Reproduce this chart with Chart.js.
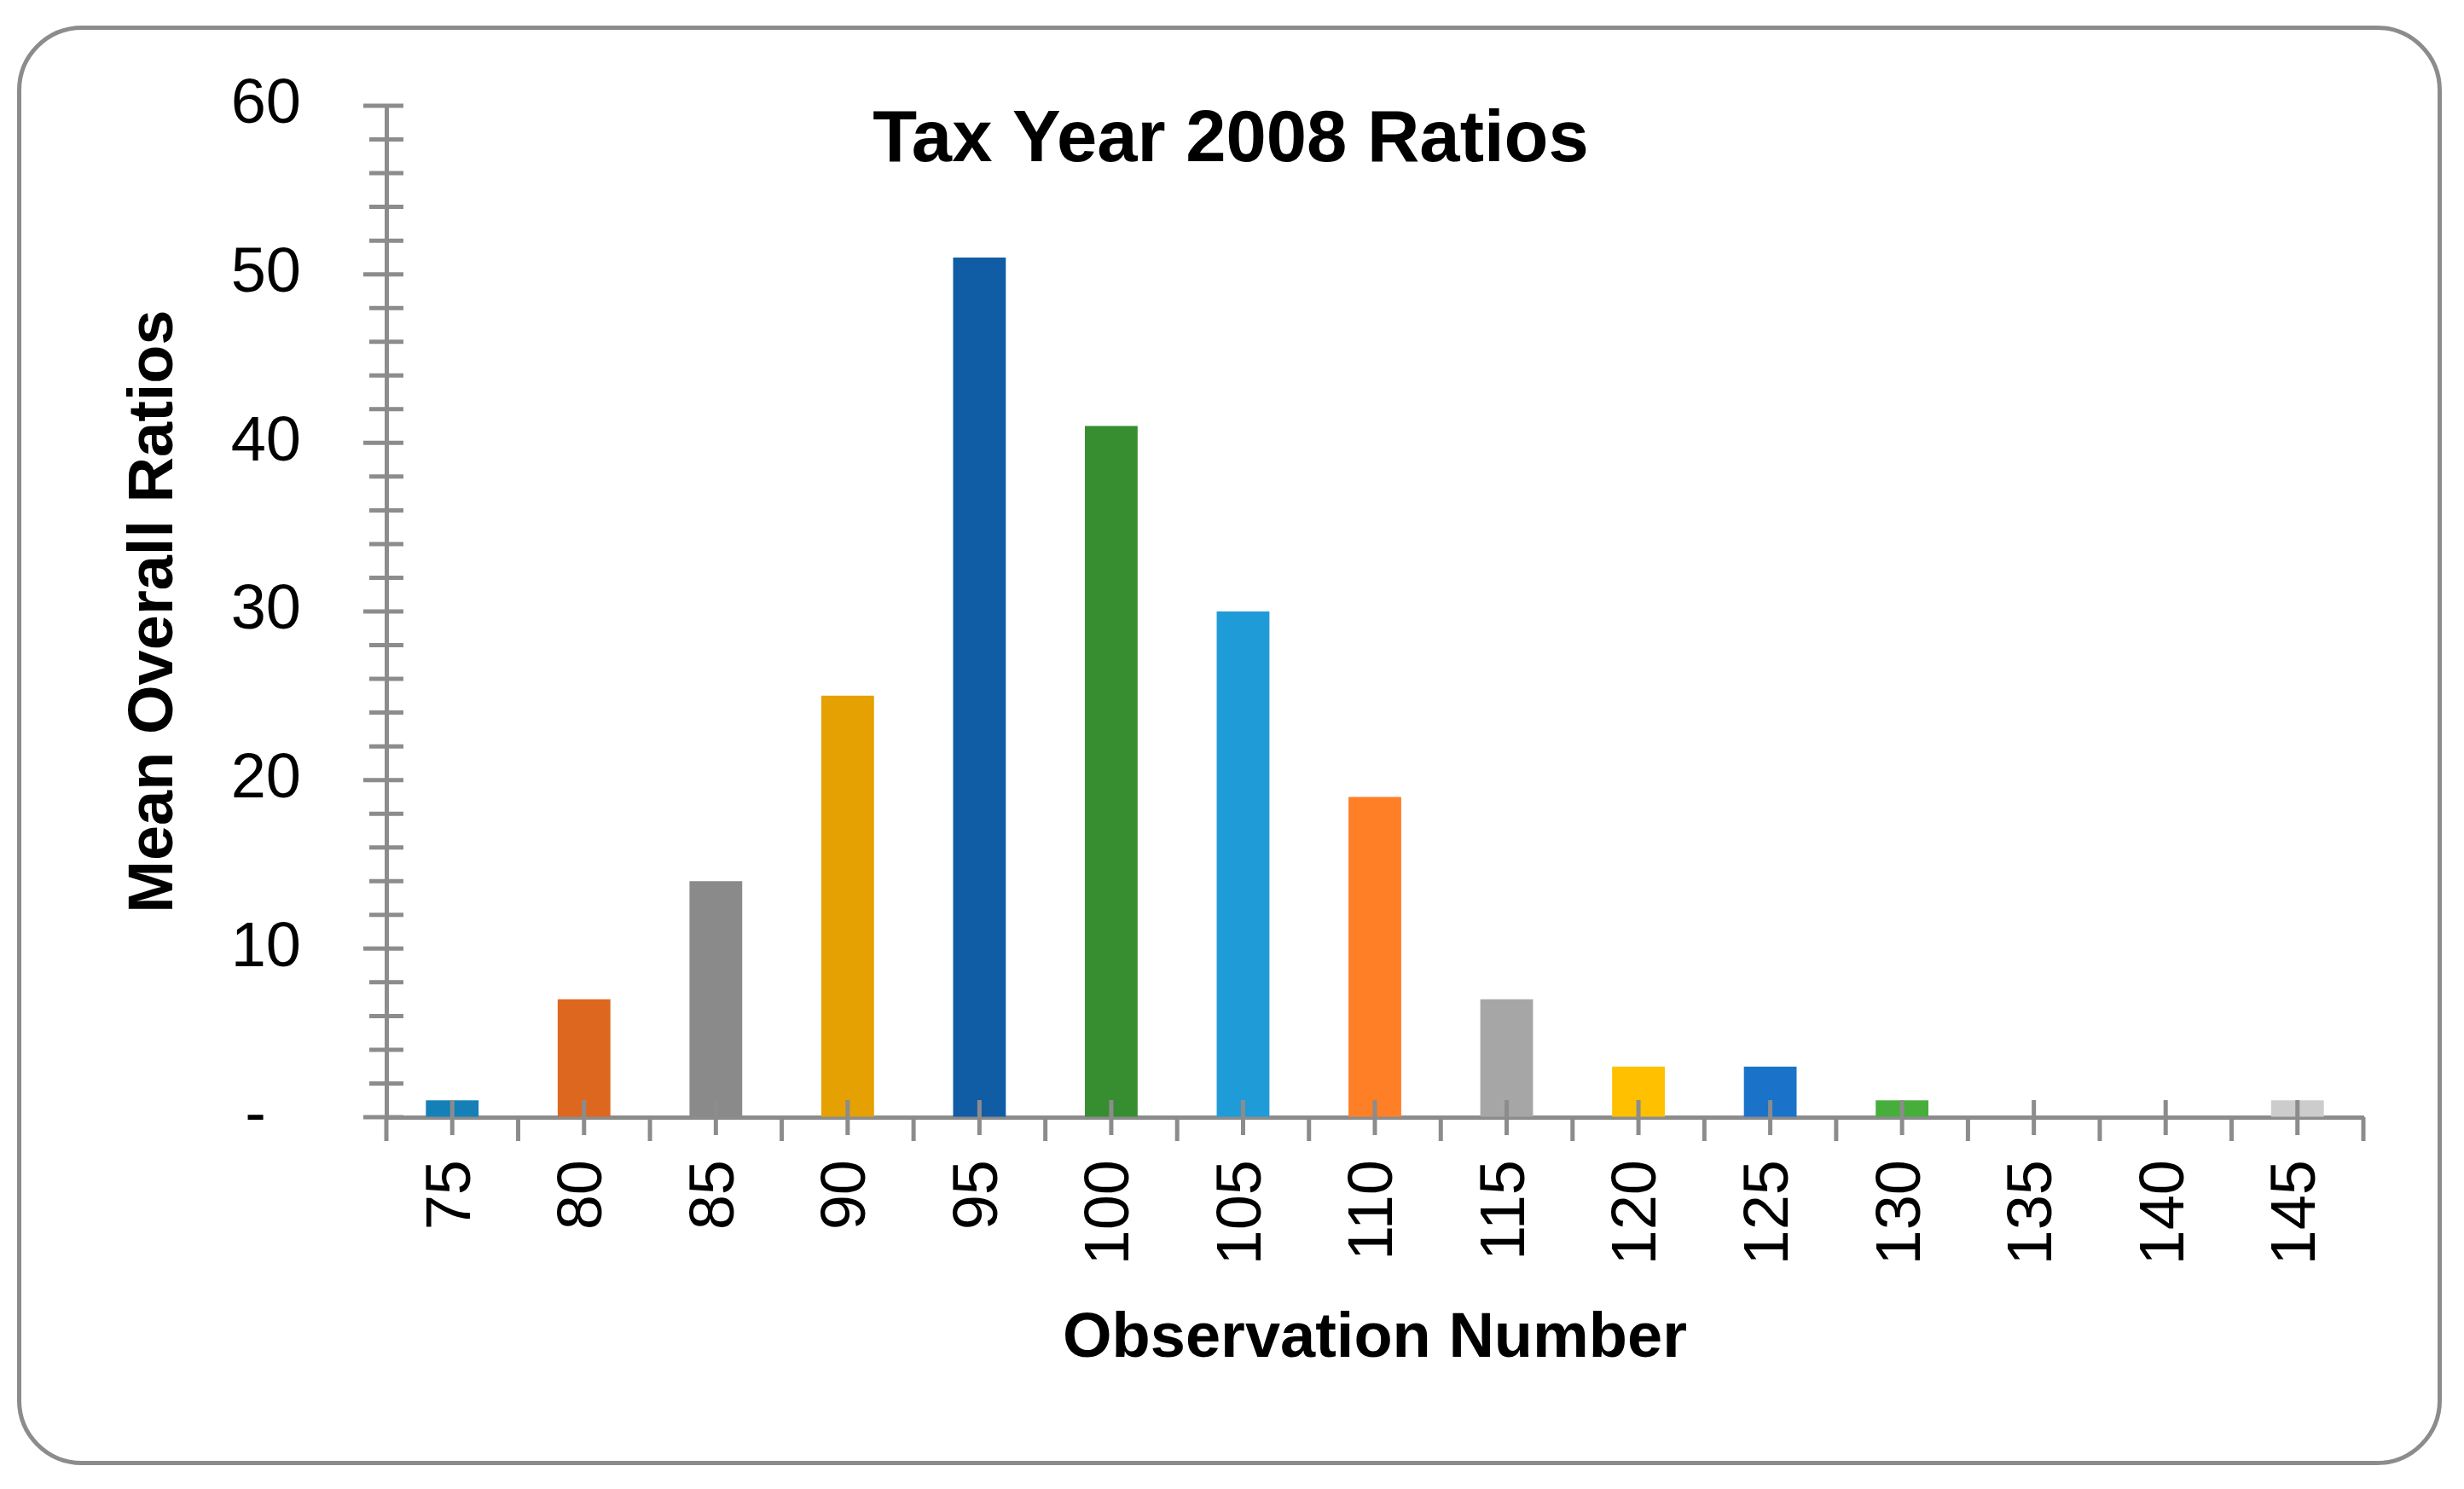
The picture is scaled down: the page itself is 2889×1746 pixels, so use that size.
<!DOCTYPE html>
<html>
<head>
<meta charset="utf-8">
<script src="https://cdn.jsdelivr.net/npm/chart.js@4.4.1/dist/chart.umd.min.js"></script>
<style>
  html, body { margin: 0; padding: 0; background: #fff; }
  #wrap { position: relative; width: 2889px; height: 1746px; }
  #frame {
    position: absolute; left: 20px; top: 30px; width: 2833px; height: 1678px;
    border: 5px solid #8c8c8c; border-radius: 76px; box-sizing: content-box;
  }
  canvas { position: absolute; left: 0; top: 0; }
</style>
</head>
<body>
<div id="wrap">
  <div id="frame"></div>
  <canvas id="chart" width="2889" height="1746"></canvas>
</div>
<script>
// ── Data ────────────────────────────────────────────────────
const categories = ['75', '80', '85', '90', '95', '100', '105', '110', '115', '120', '125', '130', '135', '140', '145'];
const ratios     = [1, 7, 14, 25, 51, 41, 30, 19, 7, 3, 3, 1, 0, 0, 1];
const barColors  = ['#157fb7', '#dd671f', '#8a8a8a', '#e5a102', '#105da5', '#368e30', '#1f9cd8',
                    '#ff7f27', '#a6a6a6', '#ffc000', '#1a73c8', '#47ae3c', '#5d9cd8', '#ed7d31', '#cccccc'];
const yTicks     = [0, 10, 20, 30, 40, 50, 60];
const chartTitle = 'Tax Year 2008 Ratios';
const xTitle     = 'Observation Number';
const yTitle     = 'Mean Overall Ratios';

// ── Styling ─────────────────────────────────────────────────
const AXIS = '#8c8c8c';
const REG  = "'Liberation Sans', Arial, sans-serif";
// invisible grid, only used so tickLength spaces the labels out
const hiddenGrid = len => ({ display: true, drawOnChartArea: false, drawTicks: true,
                             tickLength: len, color: 'rgba(0,0,0,0)' });

// tick marks (major/minor on y, centre + boundary on x), drawn over bars
const tickMarks = {
  id: 'tickMarks',
  afterDatasetsDraw(chart) {
    const { ctx, chartArea: ca, scales: { x, y } } = chart;
    ctx.save();
    ctx.strokeStyle = AXIS;
    ctx.lineWidth = 5;
    ctx.beginPath();
    for (let v = 0; v <= 60; v += 2) {
      const py = y.getPixelForValue(v);
      ctx.moveTo(ca.left - (v % 10 === 0 ? 27 : 20), py);
      ctx.lineTo(ca.left + 20, py);
    }
    const y0 = y.getPixelForValue(0);
    for (let i = 0; i < categories.length; i++) {
      const px = x.getPixelForValue(i);
      ctx.moveTo(px, y0 - 20);
      ctx.lineTo(px, y0 + 21);
    }
    for (let i = 0; i <= categories.length; i++) {
      let px;
      if (i === 0) px = ca.left;
      else if (i === categories.length) px = ca.right;
      else px = (x.getPixelForValue(i - 1) + x.getPixelForValue(i)) / 2;
      ctx.moveTo(px, y0);
      ctx.lineTo(px, y0 + 28);
    }
    ctx.stroke();

    // chart title sits over the plot area
    ctx.fillStyle = '#000';
    ctx.font = 'bold 85px ' + REG;
    ctx.textAlign = 'center';
    ctx.textBaseline = 'alphabetic';
    ctx.fillText(chartTitle, 1443, 189);
    ctx.restore();
  }
};

new Chart(document.getElementById('chart'), {
  type: 'bar',
  data: {
    labels: categories,
    datasets: [{
      data: ratios,
      backgroundColor: barColors,
      borderWidth: 0,
      barPercentage: 0.4,
      categoryPercentage: 1.0,
    }],
  },
  options: {
    responsive: false,
    devicePixelRatio: 1,
    animation: false,
    layout: { padding: { left: 137, top: 124, right: 118, bottom: 131 } },
    plugins: { legend: { display: false }, tooltip: { enabled: false }, title: { display: false } },
    scales: {
      x: {
        offset: true,
        grid: { display: false, drawTicks: false },
        border: { display: true, color: AXIS, width: 5 },
        ticks: {
          color: '#000', font: { family: REG, size: 74 },
          minRotation: 90, maxRotation: 90, padding: 50, autoSkip: false,
        },
        title: { display: true, text: xTitle, color: '#000', padding: 0,
                 font: { family: REG, size: 74, weight: 'bold' } },
        afterFit: s => { s.height = 305; },
      },
      y: {
        min: 0, max: 60,
        afterBuildTicks: s => { s.ticks = yTicks.map(v => ({ value: v })); },
        grid: hiddenGrid(90),
        border: { display: true, color: AXIS, width: 5 },
        ticks: {
          color: '#000', font: { family: REG, size: 74 }, padding: 10,
          callback: v => (v === 0 ? '-  ' : v),
        },
        title: { display: true, text: yTitle, color: '#000', padding: 0,
                 font: { family: REG, size: 74, weight: 'bold' } },
        afterFit: s => { s.width = 316; },
      },
    },
  },
  plugins: [tickMarks],
});
</script>
</body>
</html>
